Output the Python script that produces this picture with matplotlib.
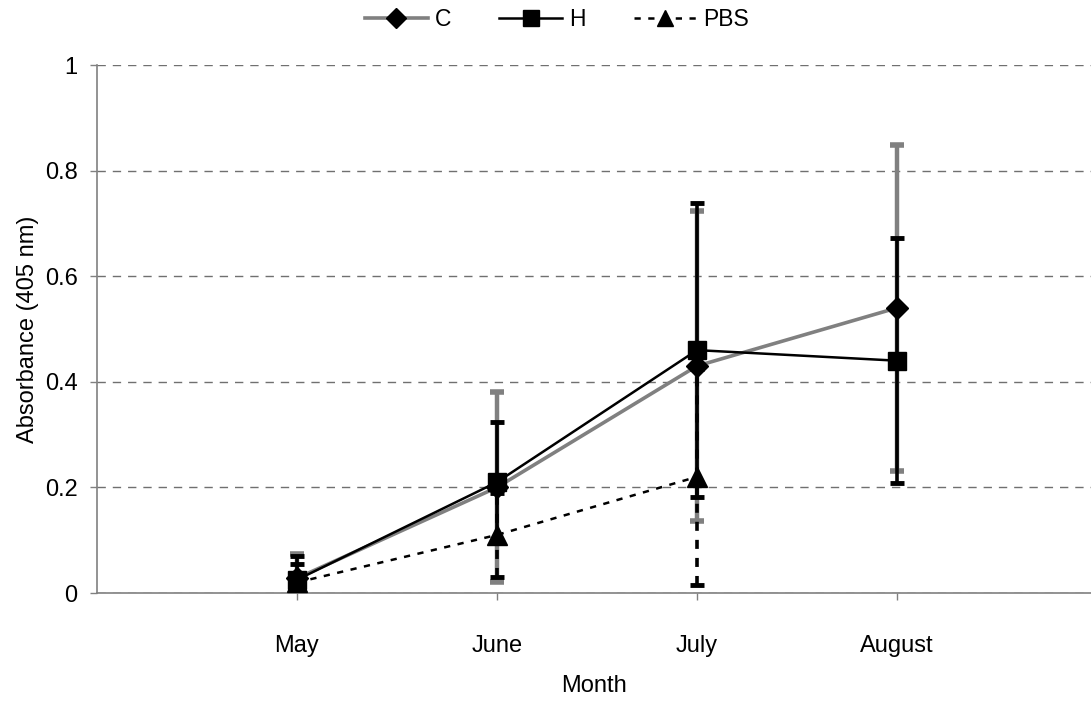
import matplotlib
matplotlib.use("Agg")
import matplotlib.pyplot as plt
from matplotlib.lines import Line2D

plt.rcParams['font.family'] = ['Liberation Sans', 'DejaVu Sans']

months = ["May", "June", "July", "August"]

c_mean = [0.028, 0.20, 0.43, 0.54]
c_err = [0.045, 0.18, 0.294, 0.308]

h_mean = [0.025, 0.21, 0.46, 0.44]
h_err = [0.045, 0.114, 0.278, 0.232]

pbs_mean = [0.02, 0.11, 0.22]
pbs_err = [0.035, 0.08, 0.205]

FS = 17

fig = plt.figure(figsize=(10.91, 7.03), dpi=100)
ax = fig.add_axes([97 / 1091, 110 / 703, 994 / 1091, 528 / 703])

x = [1, 2, 3, 4]
x_pbs = x[:len(pbs_mean)]

# C series: grey line, black diamonds, grey error bars
ax.errorbar(x, c_mean, yerr=c_err, fmt='none', ecolor='#808080',
            elinewidth=3.2, capsize=5, capthick=4, zorder=2)
ax.plot(x, c_mean, color='#808080', lw=2.6, zorder=3)

# H series: black line, black squares, black error bars
ax.errorbar(x, h_mean, yerr=h_err, fmt='none', ecolor='black',
            elinewidth=2.6, capsize=5, capthick=3.5, zorder=4)
ax.plot(x, h_mean, color='black', lw=1.8, zorder=5)

# PBS series: dotted line, black triangles, dashed error bars
eb = ax.errorbar(x_pbs, pbs_mean, yerr=pbs_err, fmt='none', ecolor='black',
                 elinewidth=2.6, capsize=5, capthick=3.5, zorder=6)
for coll in eb[2]:
    coll.set_linestyle((0, (2.5, 2.5)))
ax.plot(x_pbs, pbs_mean, color='black', lw=1.8, ls=(0, (2.5, 3)), zorder=6)

# markers on top
ax.plot(x, c_mean, ls='none', marker='D', ms=11.5, color='black', zorder=8)
ax.plot(x, h_mean, ls='none', marker='s', ms=12.5, color='black', zorder=8)
ax.plot(x_pbs, pbs_mean, ls='none', marker='^', ms=14, color='black', zorder=8)

ax.set_xlim(0, 4.97)
ax.set_ylim(0, 1)
ax.set_xticks(x)
ax.set_xticklabels(months, fontsize=FS)
ax.set_yticks([0, 0.2, 0.4, 0.6, 0.8, 1.0])
ax.set_yticklabels(["0", "0.2", "0.4", "0.6", "0.8", "1"], fontsize=FS)
ax.tick_params(axis='both', direction='out', length=5, width=1, color='#808080')
ax.tick_params(axis='x', pad=25)
ax.tick_params(axis='y', pad=9)

for s in ('top', 'right'):
    ax.spines[s].set_visible(False)
for s in ('left', 'bottom'):
    ax.spines[s].set_color('#808080')
    ax.spines[s].set_linewidth(1.2)
ax.spines['bottom'].set_zorder(1)

ax.yaxis.grid(True, color='#707070', lw=1, ls=(0, (6, 5)))
ax.set_axisbelow(True)

ax.set_xlabel("Month", fontsize=FS, labelpad=13)
ax.set_ylabel("Absorbance (405 nm)", fontsize=FS, labelpad=4)

handles = [
    Line2D([], [], color='#808080', lw=2.6, marker='D', ms=10,
           mfc='black', mec='black'),
    Line2D([], [], color='black', lw=1.8, marker='s', ms=12,
           mfc='black', mec='black'),
    Line2D([], [], color='black', lw=1.8, ls=(0, (2.5, 3)), marker='^', ms=12,
           mfc='black', mec='black'),
]
fig.legend(handles, ["C", "H", "PBS"], loc='center',
           bbox_to_anchor=(557 / 1091, 1 - 20 / 703),
           ncol=3, frameon=False, fontsize=16.5, handlelength=2.75,
           handletextpad=0.3, columnspacing=2.1)

fig.savefig("out.png", dpi=100)
